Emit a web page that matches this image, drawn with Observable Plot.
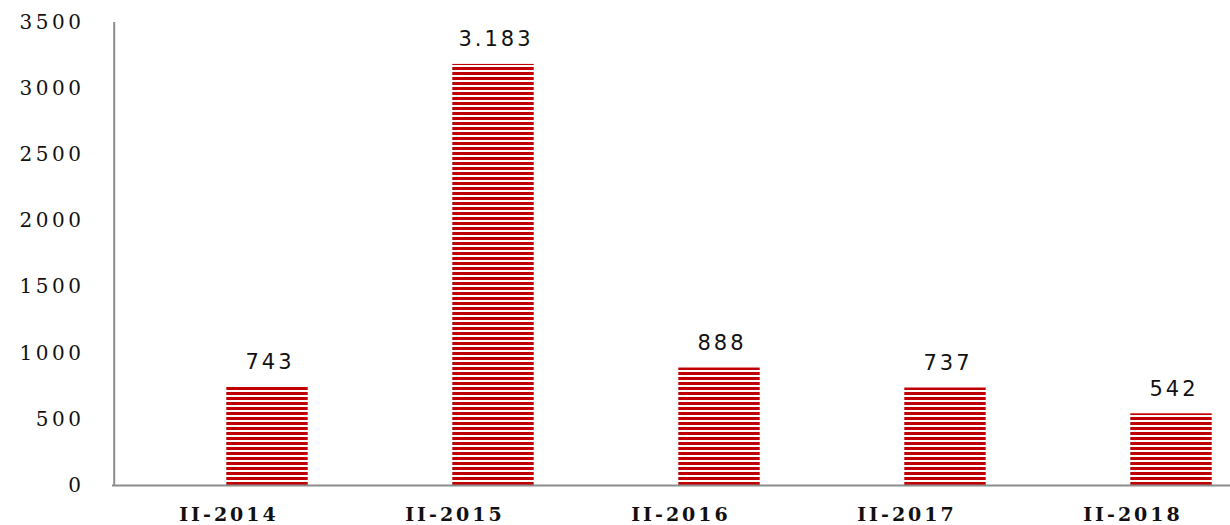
<!DOCTYPE html>
<html>
<head>
<meta charset="utf-8">
<script src="https://cdn.jsdelivr.net/npm/d3@7"></script>
<script src="https://cdn.jsdelivr.net/npm/@observablehq/plot@0.6"></script>
<style>
  html, body { margin: 0; padding: 0; background: #fff; }
  #chart svg { display: block; }
</style>
</head>
<body>
<div id="chart"></div>
<script>
const categories = ["II-2014", "II-2015", "II-2016", "II-2017", "II-2018"];
const values = [743, 3183, 888, 737, 542];
const valueLabels = ["743", "3.183", "888", "737", "542"];
const yTicks = [0, 500, 1000, 1500, 2000, 2500, 3000, 3500];

const data = categories.map((c, i) => ({cat: c, value: values[i], label: valueLabels[i]}));

const W = 1230, H = 525;
const mL = 112, mR = -15;
const bandW = (W - mR - mL) / categories.length;
const barW = 82;

const plot = Plot.plot({
  width: W,
  height: H,
  marginLeft: mL,
  marginRight: mR,
  marginTop: 22,
  marginBottom: 40,
  style: {background: "#fff", overflow: "visible"},
  x: {domain: categories, padding: 0, axis: null, label: null},
  y: {domain: [0, 3500], axis: null, label: null},
  marks: [
    Plot.barY(data, {
      x: "cat", y: "value",
      fill: "url(#stripes)",
      insetLeft: bandW / 2 - 1,
      insetRight: bandW / 2 - barW + 1
    }),
    Plot.text(data, {
      x: "cat", y: "value", text: "label",
      dx: barW / 2 + 1.5, dy: -18, lineAnchor: "bottom",
      fontSize: 21, fill: "#111",
      fontFamily: "DejaVu Sans, sans-serif",
      className: "vlabel"
    }),
    Plot.ruleX([0], {x: () => categories[0], y1: 0, y2: 3500, dx: -bandW / 2, stroke: "#8c8c8c", strokeWidth: 2}),
    Plot.ruleY([0], {stroke: "#8c8c8c", strokeWidth: 2}),
    Plot.axisY(yTicks, {
      ticks: yTicks, tickSize: 0, tickPadding: 28, label: null,
      fontSize: 20, fontFamily: "DejaVu Serif, serif", fill: "#111",
      tickFormat: d => String(d), stroke: "none", className: "ytick"
    }),
    Plot.axisX(categories, {
      tickSize: 0, tickPadding: 22, fontSize: 19, label: null,
      fontFamily: "DejaVu Serif, serif", fontWeight: "bold", fill: "#111",
      dx: 1.5,
      className: "xtick"
    })
  ]
});

// striped pattern definition
const ns = "http://www.w3.org/2000/svg";
const defs = document.createElementNS(ns, "defs");
const pat = document.createElementNS(ns, "pattern");
pat.setAttribute("id", "stripes");
pat.setAttribute("patternUnits", "userSpaceOnUse");
pat.setAttribute("x", "0");
pat.setAttribute("y", "485");
pat.setAttribute("width", "10");
pat.setAttribute("height", "5");
const bg = document.createElementNS(ns, "rect");
bg.setAttribute("width", "10"); bg.setAttribute("height", "5"); bg.setAttribute("fill", "#ffffff");
const st = document.createElementNS(ns, "rect");
st.setAttribute("y", "2"); st.setAttribute("width", "10"); st.setAttribute("height", "3"); st.setAttribute("fill", "#c00000");
pat.appendChild(bg); pat.appendChild(st);
defs.appendChild(pat);
plot.insertBefore(defs, plot.firstChild);

document.getElementById("chart").appendChild(plot);

// letter spacing to match reference typography
plot.querySelectorAll(".vlabel text").forEach(t => t.setAttribute("letter-spacing", "3"));
plot.querySelectorAll(".ytick text").forEach(t => t.setAttribute("letter-spacing", "3.5"));
plot.querySelectorAll(".xtick text").forEach(t => t.setAttribute("letter-spacing", "3"));
</script>
</body>
</html>
